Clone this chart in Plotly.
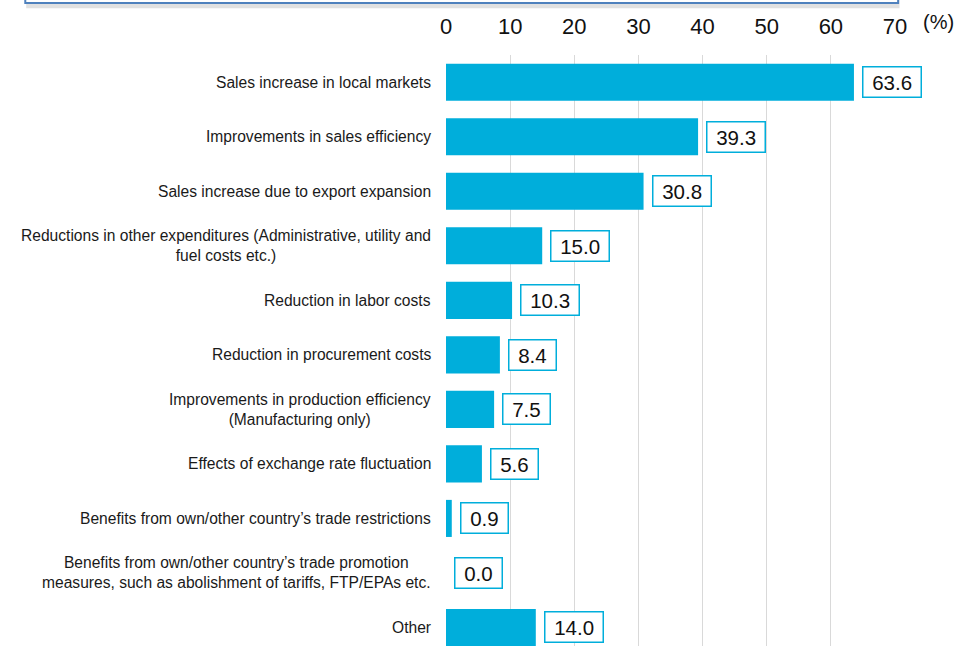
import plotly.graph_objects as go

categories = [
    "Sales increase in local markets",
    "Improvements in sales efficiency",
    "Sales increase due to export expansion",
    "Reductions in other expenditures (Administrative, utility and<br>fuel costs etc.)",
    "Reduction in labor costs",
    "Reduction in procurement costs",
    "Improvements in production efficiency<br>(Manufacturing only)",
    "Effects of exchange rate fluctuation",
    "Benefits from own/other country\u2019s trade restrictions",
    "Benefits from own/other country\u2019s trade promotion<br>measures, such as abolishment of tariffs, FTP/EPAs etc.",
    "Other",
]
values = [63.6, 39.3, 30.8, 15.0, 10.3, 8.4, 7.5, 5.6, 0.9, 0.0, 14.0]
tick_vals = [0, 10, 20, 30, 40, 50, 60, 70]

bar_color = "#00AEDB"
font_family = "Liberation Sans, Arial, sans-serif"

fig = go.Figure()
fig.add_trace(go.Bar(
    x=values,
    y=categories,
    orientation="h",
    marker=dict(color=bar_color, line=dict(width=0)),
    width=0.68,
    hoverinfo="x+y",
))

# value boxes to the right of each bar
for cat, v in zip(categories, values):
    fig.add_annotation(
        x=v, y=cat, xref="x", yref="y",
        text=f"\u00a0{v:.1f}\u00a0", showarrow=False,
        xanchor="left", xshift=8,
        font=dict(family=font_family, size=20.5, color="#111111"),
        bgcolor="white", bordercolor=bar_color, borderwidth=1.5, borderpad=3,
    )
    # category labels (centered multi-line, right anchored)
    fig.add_annotation(
        x=0, y=cat, xref="paper", yref="y",
        text=cat, showarrow=False,
        xanchor="right", xshift=-13, align="center",
        font=dict(family=font_family, size=15.6, color="#1a1a1a"),
    )

fig.add_annotation(
    x=1, y=1, xref="paper", yref="paper",
    text="(%)", showarrow=False,
    xanchor="left", yanchor="bottom", xshift=26, yshift=20,
    font=dict(family=font_family, size=20, color="#111111"),
)

# clipped header box at the top
fig.add_shape(type="rect", xref="paper", yref="paper",
              x0=-0.935, x1=1.01, y0=1.079, y1=1.2,
              line=dict(width=0), fillcolor="rgba(120,120,120,0.22)")
fig.add_shape(type="rect", xref="paper", yref="paper",
              x0=-0.937, x1=1.007, y0=1.088, y1=1.2,
              line=dict(color="#4F81BD", width=2), fillcolor="white")

fig.update_xaxes(
    side="top", range=[0, 70], tickvals=tick_vals,
    showgrid=True, gridcolor="#D9D9D9", gridwidth=1,
    zeroline=False, showline=False, ticks="",
    ticklabelstandoff=16,
    tickfont=dict(family=font_family, size=22, color="#111111"),
    fixedrange=True,
)
fig.update_yaxes(
    type="category", range=[10.34, -0.5], showticklabels=False,
    showgrid=False, zeroline=False, showline=False, ticks="",
    fixedrange=True,
)
fig.update_layout(
    width=961, height=646,
    margin=dict(l=446, r=66, t=55, b=0),
    plot_bgcolor="white", paper_bgcolor="white",
    showlegend=False,
    font=dict(family=font_family),
)

# drop the default page margin so the figure fills the window
fig.write_html(
    "out.html",
    config={"displayModeBar": False},
    post_script="document.body.style.margin='0';document.body.style.overflow='hidden';",
)
